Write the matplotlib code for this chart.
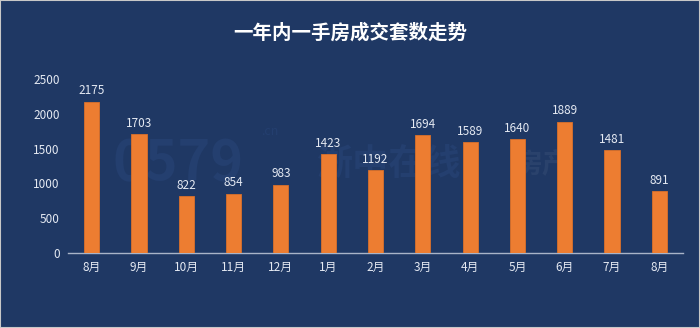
import matplotlib
matplotlib.use('Agg')
import matplotlib.pyplot as plt
from matplotlib.patches import Rectangle

plt.rcParams['font.family'] = ['Noto Sans CJK SC', 'DejaVu Sans']

months = ['8月', '9月', '10月', '11月', '12月', '1月', '2月', '3月', '4月', '5月', '6月', '7月', '8月']
sales = [2175, 1703, 822, 854, 983, 1423, 1192, 1694, 1589, 1640, 1889, 1481, 891]
yticks = [0, 500, 1000, 1500, 2000, 2500]

bg = '#1f3864'
bar_color = '#ed7d31'
txt = '#e4e9f2'
mark = '#243f6f'

fig = plt.figure(figsize=(7, 3.28), dpi=100, facecolor=bg)
ax = fig.add_axes([68 / 700, 1 - 253 / 328, (683 - 68) / 700, (253 - 79) / 328])
ax.set_facecolor(bg)

# faint site watermark, kept behind the bars
ax.text(0.255, 0.50, '0579', transform=fig.transFigure, color=mark, fontsize=40,
        fontweight='bold', ha='center', va='center', zorder=1)
ax.text(0.385, 0.60, '.cn', transform=fig.transFigure, color=mark, fontsize=9,
        ha='center', va='center', zorder=1)
ax.text(0.555, 0.50, '浙中在线', transform=fig.transFigure, color=mark, fontsize=26,
        fontweight='bold', ha='center', va='center', zorder=1)
ax.text(0.775, 0.50, '房产', transform=fig.transFigure, color='#2a426c', fontsize=20,
        fontweight='bold', ha='center', va='center', zorder=1)

x = range(len(months))
ax.bar(x, sales, width=0.32, color=bar_color, edgecolor='#d9702a', linewidth=0.6, zorder=3)
for i, v in zip(x, sales):
    ax.text(i, v + 60, str(v), ha='center', va='bottom', color=txt, fontsize=8.5, zorder=4)

ax.set_xlim(-0.5, len(months) - 0.5)
ax.set_ylim(0, 2500)
ax.set_yticks(yticks)
ax.set_yticklabels([str(t) for t in yticks], color=txt, fontsize=8.5)
ax.set_xticks(list(x))
ax.set_xticklabels(months, color=txt, fontsize=8.5)
ax.tick_params(axis='both', length=0, pad=6)

for s in ['top', 'right', 'left']:
    ax.spines[s].set_visible(False)
ax.spines['bottom'].set_color('#a9b4c8')
ax.spines['bottom'].set_linewidth(1.0)

fig.text(0.5, 1 - 33 / 328, '一年内一手房成交套数走势', ha='center', va='center',
         color='white', fontsize=14, fontweight='bold')

# thin light frame around the image
fig.patches.append(Rectangle((0, 0), 1, 1, transform=fig.transFigure, fill=False,
                             edgecolor='#c8c8c8', linewidth=1.5, zorder=10))

fig.savefig('out.png', dpi=100, facecolor=bg)
